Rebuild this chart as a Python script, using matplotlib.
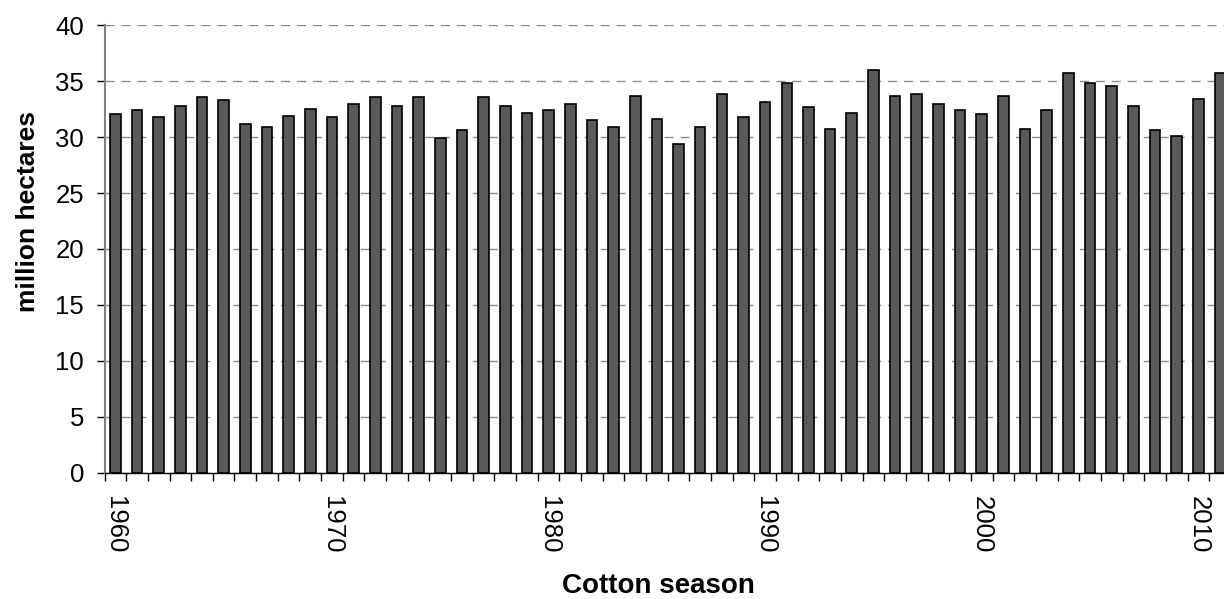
import matplotlib
matplotlib.use('Agg')
import matplotlib.pyplot as plt
import numpy as np

plt.rcParams['font.family'] = ['Liberation Sans', 'DejaVu Sans']

# Data (million hectares per cotton season)
seasons = list(range(1960, 2012))
area = [32.1, 32.4, 31.8, 32.8, 33.6, 33.3, 31.2, 30.9, 31.9, 32.5,
        31.8, 33.0, 33.6, 32.8, 33.6, 29.9, 30.6, 33.6, 32.8, 32.2,
        32.4, 33.0, 31.5, 30.9, 33.7, 31.6, 29.4, 30.9, 33.9, 31.8,
        33.1, 34.8, 32.7, 30.7, 32.2, 36.0, 33.7, 33.9, 33.0, 32.4,
        32.1, 33.7, 30.7, 32.4, 35.7, 34.8, 34.6, 32.8, 30.6, 30.1,
        33.4, 35.7]
label_years = [1960, 1970, 1980, 1990, 2000, 2010]
y_ticks = [0, 5, 10, 15, 20, 25, 30, 35, 40]

fig = plt.figure(figsize=(12.24, 5.99), dpi=100)
ax = fig.add_axes([0.0854, 0.2109, 0.9202, 0.7469])

x = np.arange(len(seasons))
ax.bar(x, area, width=0.49, color='#595959', edgecolor='black',
       linewidth=1.2, zorder=3)

ax.set_xlim(-0.5, len(seasons) - 0.5)
ax.set_ylim(0, 40)

# y axis
ax.set_yticks(y_ticks)
ax.tick_params(axis='y', direction='out', length=5.8, width=1, color='black',
               labelsize=18.5, pad=9)
ax.yaxis.grid(True, color='#8c8c8c', linewidth=1, linestyle=(0, (6.5, 5)))
ax.set_axisbelow(True)

# x axis: labels every 10 years, ticks on category boundaries
ax.set_xticks([seasons.index(y) for y in label_years])
ax.set_xticklabels([str(y) for y in label_years], rotation=-90, va='top', ha='center')
ax.set_xticks(np.arange(-0.5, len(seasons)), minor=True)
ax.tick_params(axis='x', which='major', length=0, labelsize=18.5, pad=17)
ax.tick_params(axis='x', which='minor', direction='out', length=6, width=1, color='black')

for side in ['top', 'right']:
    ax.spines[side].set_visible(False)
ax.spines['left'].set_color('#808080')
ax.spines['left'].set_linewidth(1.5)
ax.spines['bottom'].set_color('black')
ax.spines['bottom'].set_linewidth(1)

fig.text(28.5 / 1224, 1 - 212 / 599, 'million hectares', rotation=90,
         ha='center', va='center', fontsize=19, fontweight='bold')
fig.text(658 / 1224, 1 - 593 / 599, 'Cotton season', ha='center', va='baseline',
         fontsize=20, fontweight='bold')

fig.savefig('out.png', dpi=100)
